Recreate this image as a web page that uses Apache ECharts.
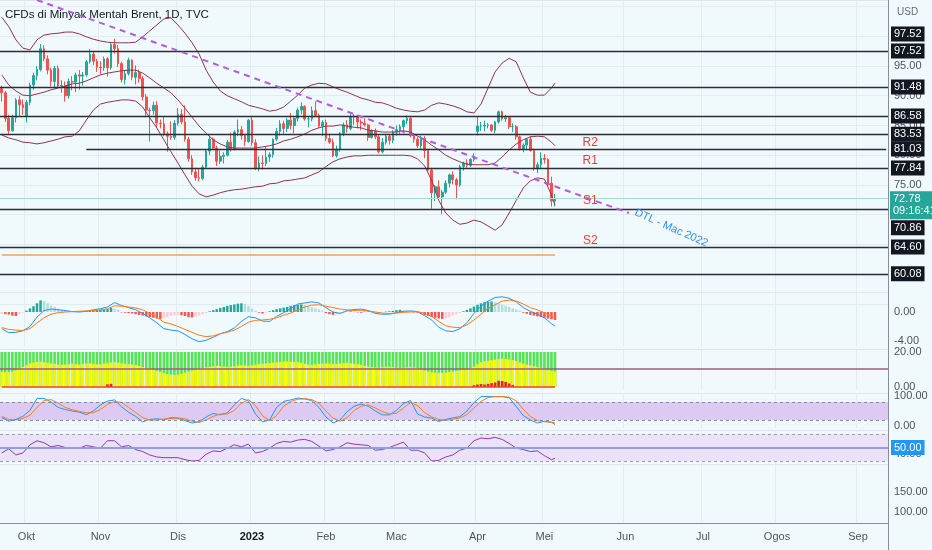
<!DOCTYPE html>
<html>
<head>
<meta charset="utf-8">
<script src="https://cdn.jsdelivr.net/npm/echarts@6/dist/echarts.min.js"></script>
<style>
html, body { margin: 0; padding: 0; background: #f0f9fb; }
#chart { width: 932px; height: 550px; }
</style>
</head>
<body>
<div id="chart"></div>
<script>
// sesi dagangan (hari kerja) dan label bulan
var holidays = ['2022-12-26', '2023-01-02', '2023-04-07'];
var monthNames = ['2023', 'Feb', 'Mac', 'Apr', 'Mei', 'Jun', 'Jul', 'Ogos', 'Sep', 'Okt', 'Nov', 'Dis'];
var barCount = 252;

// lilin harian [open, close, low, high], 22 Sep 2022 - 4 Mei 2023
var candles = [
    [91.2, 90.5, 89.0, 91.7], [90.5, 86.2, 85.6, 90.8], [86.2, 84.1, 83.6, 86.8], [84.1, 86.3, 84.0, 86.8],
    [86.3, 89.3, 85.5, 89.6], [89.3, 88.5, 86.6, 90.0], [88.5, 88.0, 86.8, 89.4], [86.5, 88.9, 85.5, 89.3],
    [88.9, 91.8, 88.4, 92.2], [91.8, 93.4, 91.0, 93.9], [93.4, 94.4, 92.6, 95.0], [94.4, 97.9, 94.1, 98.7],
    [97.9, 96.2, 95.8, 98.5], [96.2, 94.3, 93.6, 96.8], [94.3, 92.4, 91.6, 94.7], [92.4, 94.6, 91.3, 95.0],
    [94.6, 91.6, 91.4, 95.1], [91.6, 91.7, 90.5, 92.6], [91.7, 90.0, 89.0, 92.4], [90.0, 92.4, 89.5, 92.9],
    [92.4, 92.3, 90.9, 93.3], [92.3, 93.5, 90.6, 93.9], [93.5, 93.3, 91.0, 94.3], [93.3, 93.5, 91.7, 94.0],
    [93.5, 95.7, 93.2, 96.0], [95.7, 97.0, 95.4, 97.8], [97.0, 95.8, 95.2, 97.4], [95.8, 94.8, 94.0, 96.2],
    [94.8, 94.7, 93.6, 95.8], [94.7, 96.2, 94.2, 96.6], [96.2, 94.7, 93.2, 96.5], [94.7, 98.6, 94.4, 98.9],
    [98.6, 97.9, 97.1, 99.6], [97.9, 95.4, 94.8, 98.5], [95.4, 92.7, 92.2, 95.7], [92.7, 93.7, 91.9, 94.3],
    [93.7, 96.0, 93.4, 96.4], [96.0, 93.1, 92.6, 96.1], [93.1, 93.9, 91.9, 95.1], [93.9, 92.9, 92.2, 94.4],
    [92.9, 89.8, 89.2, 93.3], [89.8, 87.6, 86.4, 90.3], [87.6, 87.5, 82.3, 88.0], [87.5, 88.4, 86.8, 89.0],
    [88.4, 85.4, 84.6, 89.1], [85.4, 85.3, 84.5, 86.0], [85.3, 83.6, 83.2, 86.6], [83.6, 83.2, 80.6, 84.0],
    [83.2, 83.0, 82.6, 85.7], [83.0, 85.4, 82.6, 85.9], [85.4, 86.9, 85.0, 87.9], [86.9, 85.6, 85.2, 87.7],
    [85.6, 82.7, 82.3, 88.4], [82.7, 79.4, 78.9, 83.1], [79.4, 77.2, 76.7, 80.0], [77.2, 76.2, 75.7, 77.9],
    [76.2, 76.1, 75.6, 77.8], [76.1, 78.0, 75.8, 78.4], [78.0, 80.7, 77.8, 81.0], [80.7, 82.7, 80.0, 83.3],
    [82.7, 81.2, 80.9, 83.0], [81.2, 79.0, 78.2, 81.6], [79.0, 79.8, 78.5, 80.8], [79.8, 80.0, 78.6, 80.5],
    [80.0, 82.2, 79.8, 82.6], [82.2, 81.0, 80.6, 83.8], [81.0, 83.9, 80.8, 84.2], [83.9, 84.3, 83.2, 86.0],
    [84.3, 83.3, 82.6, 84.9], [83.3, 82.3, 81.5, 83.6], [82.3, 85.9, 82.1, 86.1], [85.9, 82.1, 81.6, 86.6],
    [82.1, 77.8, 77.5, 82.7], [77.8, 78.7, 77.3, 79.8], [78.7, 78.6, 77.6, 80.0], [78.6, 79.7, 78.2, 81.4],
    [79.7, 80.1, 78.9, 80.5], [80.1, 82.7, 79.6, 82.8], [82.7, 84.0, 82.4, 84.6], [84.0, 85.3, 83.3, 85.9],
    [85.3, 84.5, 83.6, 85.8], [84.5, 85.9, 83.9, 86.3], [85.9, 85.0, 84.3, 87.1], [85.0, 86.2, 83.7, 86.4],
    [86.2, 87.6, 85.7, 88.0], [87.6, 88.2, 86.9, 88.9], [88.2, 86.1, 85.8, 88.4], [86.1, 86.1, 84.7, 86.6],
    [86.1, 87.5, 85.7, 88.2], [87.5, 86.7, 86.4, 89.1], [86.7, 84.9, 84.6, 87.0], [84.9, 85.5, 83.2, 85.9],
    [85.5, 82.8, 82.4, 86.0], [82.8, 82.2, 81.9, 83.6], [82.2, 79.9, 79.7, 82.8], [79.9, 81.0, 79.6, 81.6],
    [81.0, 83.7, 80.6, 83.9], [83.7, 85.1, 83.2, 85.5], [85.1, 84.5, 83.8, 85.9], [84.5, 86.4, 84.2, 86.9],
    [86.4, 86.6, 85.1, 86.9], [86.6, 85.6, 84.5, 86.8], [85.6, 85.4, 84.2, 86.0], [85.4, 85.1, 84.8, 86.2],
    [85.1, 83.0, 82.4, 85.3], [83.0, 84.1, 82.8, 84.4], [84.1, 83.1, 82.7, 84.5], [83.1, 80.6, 80.3, 83.4],
    [80.6, 82.2, 80.3, 82.9], [82.2, 83.2, 81.8, 83.6], [83.2, 82.5, 81.8, 83.5], [82.5, 83.9, 82.0, 84.2],
    [83.9, 84.3, 83.3, 85.0], [84.3, 84.8, 83.6, 85.2], [84.8, 85.8, 83.7, 86.0], [85.8, 86.2, 85.2, 86.7],
    [86.2, 83.3, 83.0, 86.4], [83.3, 82.7, 82.1, 83.7], [82.7, 81.6, 81.2, 83.1], [81.6, 82.8, 80.9, 83.3],
    [82.8, 80.8, 79.5, 83.2], [80.8, 77.5, 77.2, 81.1], [77.5, 73.7, 71.0, 77.9], [73.7, 74.7, 72.3, 75.0],
    [74.7, 73.0, 72.6, 75.8], [73.0, 73.8, 70.1, 74.2], [73.8, 75.3, 73.5, 75.8], [75.3, 76.7, 74.6, 76.9],
    [76.7, 75.9, 75.1, 77.3], [75.9, 75.0, 72.6, 76.2], [75.0, 78.1, 74.7, 78.4], [78.1, 78.7, 77.4, 78.9],
    [78.7, 78.3, 77.9, 79.3], [78.3, 79.3, 78.0, 79.5], [79.3, 79.8, 78.9, 80.3], [84.0, 84.9, 83.3, 86.4],
    [84.9, 84.9, 84.1, 85.6], [84.9, 85.0, 84.0, 85.8], [85.0, 85.1, 84.5, 85.4], [85.1, 84.2, 83.9, 85.2],
    [84.2, 85.6, 83.7, 85.8], [85.6, 87.3, 85.3, 87.5], [87.3, 86.1, 85.8, 87.5], [86.1, 86.3, 85.6, 86.8],
    [86.3, 84.8, 84.4, 86.6], [84.8, 84.8, 83.9, 85.4], [84.8, 83.1, 82.6, 85.1], [83.1, 81.1, 80.8, 83.3],
    [81.1, 81.7, 80.5, 82.0], [81.7, 82.7, 80.8, 82.9], [82.7, 80.8, 80.6, 83.2], [80.8, 77.7, 77.4, 81.1],
    [77.7, 78.4, 77.0, 78.8], [78.4, 79.5, 77.8, 80.5], [79.5, 79.3, 78.6, 80.2], [79.3, 75.3, 74.8, 79.5],
    [75.3, 72.3, 71.4, 76.4], [72.3, 72.78, 71.4, 73.5]
];

// Bollinger (setiap 2 bar, titik akhir = bar terakhir)
var bbUpper = [
    103.2, 101.6, 99.4, 98.0, 97.7, 99.4, 100.2, 100.4, 100.5, 100.7,
    100.7, 100.4, 99.9, 99.5, 99.2, 99.0, 98.9, 98.9, 98.9, 99.0,
    99.9, 100.9, 101.9, 102.9, 103.1, 101.9, 100.5, 98.9, 97.0, 94.3,
    92.3, 90.8, 90.0, 89.5, 89.0, 88.4, 88.1, 87.8, 87.4, 87.6,
    88.1, 89.1, 90.1, 91.3, 91.8, 92.1, 92.0, 91.5, 91.0, 90.6,
    90.1, 89.6, 89.3, 88.9, 88.8, 88.4, 87.9, 87.6, 87.4, 87.3,
    87.6, 88.4, 88.8, 88.6, 88.3, 87.9, 87.3, 87.1, 88.6, 91.3,
    94.0, 95.5, 96.3, 95.7, 93.0, 90.6, 90.1, 90.1, 91.3, 92.1
];
var bbMiddle = [
    93.5, 91.8, 90.8, 90.1, 90.0, 90.3, 90.6, 91.0, 91.3, 91.6,
    92.0, 92.1, 92.5, 93.0, 93.5, 93.8, 94.0, 94.2, 94.3, 94.3,
    93.8, 93.0, 92.1, 91.3, 90.5, 89.3, 87.9, 86.4, 84.9, 83.7,
    82.6, 81.9, 81.4, 81.2, 81.2, 81.2, 81.2, 81.4, 81.6, 81.9,
    82.4, 82.7, 83.1, 83.6, 84.2, 84.6, 84.9, 84.9, 85.1, 84.9,
    84.7, 84.6, 84.2, 84.1, 83.9, 83.9, 83.9, 84.1, 83.9, 83.2,
    82.6, 81.7, 80.9, 80.0, 79.4, 78.9, 78.5, 78.4, 78.4, 78.4,
    78.7, 79.7, 80.9, 81.9, 82.6, 83.1, 83.2, 83.1, 82.2, 81.6
];
var bbLower = [
    83.4, 82.9, 82.6, 82.2, 82.1, 81.9, 82.1, 82.4, 82.7, 83.1,
    83.2, 84.1, 85.9, 87.6, 88.6, 88.9, 89.1, 89.3, 89.3, 89.1,
    88.1, 86.3, 84.6, 82.6, 80.6, 78.7, 76.7, 74.8, 73.5, 73.0,
    73.3, 73.7, 74.0, 74.2, 74.3, 74.5, 74.7, 74.8, 75.2, 75.3,
    75.7, 75.8, 76.0, 76.2, 76.7, 77.2, 78.1, 78.9, 79.4, 79.7,
    79.9, 79.9, 80.0, 80.0, 80.0, 80.0, 80.0, 80.0, 79.9, 79.4,
    78.2, 75.8, 72.4, 70.3, 69.1, 68.4, 68.6, 69.1, 68.8, 68.1,
    67.4, 68.3, 70.3, 72.4, 74.5, 75.7, 76.2, 76.0, 73.3, 71.6
];

// garis sokongan / rintangan
var priceLevels = [97.52, 91.48, 86.58, 83.53, 77.84, 70.86, 64.60, 60.08];
var r1Level = 81.03;
var orangeLevel = 63.24;
var lastPrice = 72.78;
var trendStart = [10, 106.09];
var trendEnd = [178, 70.29];

// MACD
var macdLine = [
    -2.3, -2.85, -2.8, -2.6, -2.0, -0.7, 0.2, 0.4, 0.3, 0.2,
    0.05, 0.0, 0.1, 0.3, 0.45, 0.7, 1.3, 0.9, 0.6, 0.3,
    -0.2, -0.8, -1.5, -2.3, -2.5, -2.6, -3.1, -3.7, -4.1, -3.9,
    -3.5, -3.0, -2.7, -2.2, -1.3, -0.65, -0.8, -1.25, -1.3, -0.6,
    -0.1, 0.5, 1.1, 1.25, 1.4, 1.25, 0.6, 0.0, -0.2, 0.2,
    0.35, 0.4, 0.2, -0.2, -0.3, -0.3, -0.1, 0.1, 0.15, 0.05,
    -0.5, -1.1, -2.1, -2.6, -2.7, -2.3, -1.5, -0.2, 0.8, 1.5,
    2.0, 2.1, 1.9, 1.4, 0.6, 0.1, -0.3, -0.8, -1.6, -1.95
];
var macdSignal = [
    -2.15, -2.4, -2.5, -2.55, -2.3, -1.5, -0.8, -0.3, -0.1, 0.0,
    0.05, 0.1, 0.15, 0.2, 0.3, 0.45, 0.85, 0.8, 0.7, 0.55,
    0.3, -0.2, -0.7, -1.4, -1.65, -2.0, -2.4, -2.8, -3.2, -3.4,
    -3.3, -3.0, -2.8, -2.5, -2.0, -1.4, -1.15, -1.1, -1.0, -0.8,
    -0.45, -0.15, 0.3, 0.7, 0.95, 1.0, 0.8, 0.6, 0.4, 0.3,
    0.2, 0.25, 0.15, 0.0, -0.15, -0.2, -0.15, -0.05, 0.0, 0.05,
    -0.2, -0.6, -1.3, -1.9, -2.1, -2.15, -1.8, -1.1, -0.3, 0.5,
    1.0, 1.5, 1.65, 1.5, 1.1, 0.6, 0.3, -0.1, -0.55, -0.8
];
var macdHist = [
    -0.25, -0.3, -0.35, -0.5, -0.55, -0.3, -0.1,
    0.2, 0.5, 0.8, 1.2, 1.6, 1.5, 1.2, 0.9, 0.7, 0.5, 0.35, 0.25, 0.15, 0.1, 0.05,
    0.05, 0.1, 0.15, 0.2, 0.25, 0.3, 0.3, 0.35, 0.4, 0.55, 0.45, 0.3,
    -0.05, -0.1, -0.15, -0.2, -0.3, -0.4, -0.5, -0.6, -0.7, -0.8, -0.9, -0.95,
    -0.85, -0.7, -0.55, -0.45, -0.4, -0.45, -0.55,
    -0.7, -0.75, -0.65, -0.5, -0.3, -0.15,
    0.1, 0.25, 0.4, 0.55, 0.7, 0.85, 0.95, 1.05, 1.15, 1.2, 1.1, 0.8, 0.5, 0.2,
    -0.1, -0.2, -0.1,
    0.1, 0.25, 0.4, 0.5, 0.6, 0.7, 0.85, 0.95, 1.0, 1.05,
    0.95, 0.8, 0.65, 0.5, 0.35, 0.2,
    -0.15, -0.3, -0.4, -0.35, -0.2,
    -0.1, 0.05, 0.1, 0.05, -0.05, -0.1, 0.05, 0.1, 0.05, -0.05, -0.1, -0.05, 0.05, 0.1, 0.15,
    0.25, 0.3, 0.2, 0.1, 0.05, -0.05, -0.1,
    -0.25, -0.4, -0.55, -0.7, -0.8, -0.9, -0.95, -0.85, -0.7, -0.5, -0.3, -0.15,
    0.1, 0.3, 0.5, 0.75, 1.0, 1.2, 1.35, 1.4, 1.45, 1.35,
    1.2, 1.0, 0.85, 0.7, 0.5, 0.35, 0.2,
    -0.1, -0.25, -0.4, -0.5, -0.6, -0.7, -0.8, -0.9, -1.0, -1.1
];

// panel hijau / kuning
var squeezeGreen = [
    20, 20, 20, 20, 20, 20, 20, 20, 20, 20, 20, 20, 20, 20, 20, 20, 20, 20, 20, 20,
    20, 20, 20, 20, 20, 20, 20, 20, 20, 20, 20, 20, 20, 20, 20, 20, 20, 20, 20, 20,
    20, 20, 20, 20, 20, 20, 20, 20, 20, 20, 20, 20, 20, 20, 20, 20, 20, 20, 20, 20,
    20, 20, 20, 20, 20, 20, 20, 20, 20, 20, 20, 20, 20, 20, 20, 20, 20, 20, 20, 20,
    20, 20, 20, 20, 20, 20, 20, 20, 20, 20, 20, 20, 20, 20, 20, 20, 20, 20, 20, 20,
    20, 20, 20, 20, 20, 20, 20, 20, 20, 20, 20, 20, 20, 20, 20, 20, 20, 20, 20, 20,
    20, 20, 20, 20, 20, 20, 20, 20, 20, 20, 20, 20, 20, 20, 20, 20, 20, 20, 20, 20,
    20, 20, 20, 20, 20, 20, 20, 20, 20, 20, 20, 20, 20, 20, 20, 20, 20, 20
];
var squeezeYellow = [
    8.6, 8.4, 8.5, 8.8, 9.5, 10.5, 11.5,
    12.5, 13.5, 14.0, 14.3,
    14.5, 14.2, 13.8, 13.5, 13.2, 12.8, 12.6, 12.8, 13.0, 13.3, 13.0, 12.8, 13.1, 13.4, 13.6, 13.2, 13.0,
    13.0, 13.3, 13.6, 14.0, 14.2, 13.9, 13.5, 13.2, 13.0, 12.8, 12.5, 12.0, 11.4,
    10.8, 10.2, 9.7, 9.2, 8.6, 8.0, 7.4, 7.0, 6.9, 7.1, 7.5, 8.2, 8.8, 9.4, 9.9,
    10.4, 10.8, 11.2, 11.5, 11.8, 12.0, 11.8, 11.6, 11.4, 11.6, 11.9, 12.2, 12.4, 12.3, 12.1,
    12.4, 12.7, 13.0, 13.3, 13.5, 13.7, 13.9, 14.1, 14.3, 14.5, 14.6, 14.4, 14.3, 14.2,
    13.8, 13.2, 12.8, 12.6, 12.9, 13.2, 13.4, 13.5, 13.3, 13.1, 13.2,
    13.4, 13.6, 13.8, 13.5, 13.2, 13.0, 12.6, 12.0, 11.6, 11.4, 11.2, 11.0, 11.3,
    11.5, 11.6, 11.3, 11.0, 10.8, 11.0, 11.2, 11.4, 11.1, 10.6,
    10.0, 9.4, 8.8, 8.4, 8.2, 8.0, 8.1, 8.3, 8.6, 8.9, 9.2, 9.5, 9.8,
    10.2, 10.8, 11.6, 13.0, 14.2, 14.8, 15.0,
    15.3, 15.6, 16.0, 16.2, 16.0, 15.7, 15.3, 14.8,
    14.0, 13.4, 12.8, 12.4, 11.8, 11.4, 11.0,
    10.4, 9.8, 9.2, 8.8
];
var squeezeRed = [
    [30, 1.5], [31, 1.8], [134, 1.0], [135, 1.4], [136, 1.7], [137, 1.4], [138, 1.8],
    [139, 2.2], [140, 2.6], [141, 3.6], [142, 3.4], [143, 2.9], [144, 2.0], [145, 1.2]
];
var squeezeLine = 10.3;

// Stochastic
var stochK = [
    28, 16, 22, 32, 52, 92, 92, 80, 62, 55,
    50, 46, 38, 50, 70, 83, 87, 64, 46, 32,
    14, 22, 24, 21, 28, 26, 18, 10, 14, 30,
    42, 37, 44, 70, 92, 84, 40, 14, 20, 62,
    82, 87, 93, 90, 85, 62, 30, 10, 20, 48,
    66, 73, 66, 50, 37, 37, 52, 75, 85, 40,
    30, 26, 15, 22, 27, 31, 50, 78, 98, 98,
    98, 98, 94, 65, 35, 20, 10, 16, 12, 5
];
var stochD = [
    32, 22, 20, 25, 36, 62, 85, 88, 76, 62,
    54, 49, 44, 44, 55, 72, 82, 78, 62, 45,
    28, 20, 20, 23, 25, 27, 24, 16, 12, 20,
    32, 40, 40, 52, 76, 88, 68, 34, 18, 35,
    66, 82, 89, 91, 88, 76, 50, 26, 16, 28,
    52, 66, 70, 60, 48, 40, 42, 60, 78, 68,
    45, 30, 22, 19, 22, 27, 38, 60, 82, 95,
    98, 98, 96, 84, 55, 32, 18, 14, 13, 10
];

// RSI
var rsi = [
    42, 48, 39, 42, 54, 60, 57, 51, 53, 50,
    50, 49, 53, 51, 49, 60, 60, 51, 53, 47,
    44, 39, 36, 35, 35, 35, 32, 30, 31, 40,
    45, 44, 49, 54, 51, 55, 42, 44, 49, 56,
    59, 58, 61, 62, 59, 52, 45, 47, 51, 57,
    55, 54, 53, 46, 47, 50, 54, 58, 46, 46,
    42, 30, 31, 36, 39, 46, 49, 60, 64, 63,
    65, 62, 56, 49, 47, 44, 45, 38, 32, 34
];

function buildDates() {
    var out = [];
    var d = new Date(Date.UTC(2022, 8, 22));
    while (out.length < barCount) {
        var wd = d.getUTCDay();
        var s = d.toISOString().slice(0, 10);
        if (wd !== 0 && wd !== 6 && holidays.indexOf(s) < 0) out.push(s);
        d.setUTCDate(d.getUTCDate() + 1);
    }
    return out;
}

var dates = buildDates();
var lastBar = candles.length - 1;
var monthStart = dates.map(function (s, i) {
    return i > 0 && s.slice(5, 7) !== dates[i - 1].slice(5, 7);
});
function sampled(arr) {
    return arr.map(function (v, k) { return [k === arr.length - 1 ? lastBar : k * 2, v]; });
}

var FONT = '"Liberation Sans Narrow", "Liberation Sans", sans-serif';
var gridColor = '#e2ecef';

var chart = echarts.init(document.getElementById('chart'));

function xAxisFor(gi, showLabels) {
    return {
        type: 'category', gridIndex: gi, data: dates, boundaryGap: true,
        axisLine: { show: false }, axisTick: { show: false },
        axisLabel: showLabels ? {
            interval: function (i) { return monthStart[i]; },
            formatter: function (v) {
                var m = +v.slice(5, 7);
                return m === 1 ? '{y|' + v.slice(0, 4) + '}' : monthNames[m - 1];
            },
            color: '#50535e', fontSize: 11, fontFamily: FONT, margin: 9,
            rich: { y: { fontWeight: 'bold', color: '#131722', fontSize: 11, fontFamily: FONT } }
        } : { show: false },
        splitLine: { show: true, interval: function (i) { return monthStart[i]; }, lineStyle: { color: gridColor } }
    };
}

function subAxis(gi, min, max, labels) {
    return {
        type: 'value', gridIndex: gi, position: 'right', min: min, max: max,
        axisLine: { show: false }, axisTick: { show: false }, splitLine: { show: false },
        axisLabel: {
            customValues: labels, color: '#50535e', fontSize: 11, fontFamily: FONT, margin: 6,
            formatter: function (v) { return v.toFixed(2); }
        }
    };
}

function histColor(p) {
    var v = macdHist[p.dataIndex];
    var prev = p.dataIndex > 0 ? macdHist[p.dataIndex - 1] : v;
    if (v >= 0) return v >= prev ? '#26a69a' : '#b2dfdb';
    return v < prev ? '#ff5252' : '#ffcdd2';
}

var levelLine = { color: '#2a2e39', width: 1.3, type: 'solid' };
var mainMarks = priceLevels.map(function (v) { return { yAxis: v, lineStyle: levelLine }; });
mainMarks.push([{ coord: [dates[24], r1Level], lineStyle: levelLine }, { coord: [dates[barCount - 1], r1Level] }]);
mainMarks.push([{ coord: [dates[0], orangeLevel], lineStyle: { color: '#f5a05a', width: 1.5, type: 'solid' } }, { coord: [dates[lastBar], orangeLevel] }]);
mainMarks.push({ yAxis: lastPrice, lineStyle: { color: '#a6dcd6', width: 1, type: 'solid' } });
mainMarks.push([{ coord: [dates[trendStart[0]], trendStart[1]], lineStyle: { color: '#b05ddb', width: 2, type: [6, 5] } }, { coord: [dates[trendEnd[0]], trendEnd[1]] }]);

var srLabel = { show: true, color: '#ef3b36', fontSize: 12, fontFamily: FONT, formatter: '{b}' };

var option = {
    animation: false,
    backgroundColor: '#f0f9fb',
    grid: [
        { left: 0, right: 44, top: 0, height: 304 },
        { left: 0, right: 44, top: 292, height: 55 },
        { left: 0, right: 44, top: 349, height: 41 },
        { left: 0, right: 44, top: 393, height: 35 },
        { left: 0, right: 44, top: 430, height: 34 },
        { left: 0, right: 44, top: 465, height: 57 }
    ],
    xAxis: [xAxisFor(0, false), xAxisFor(1, false), xAxisFor(2, false), xAxisFor(3, false), xAxisFor(4, false), xAxisFor(5, true)],
    yAxis: [
        {
            type: 'value', gridIndex: 0, position: 'right', min: 55, max: 106.09, interval: 5,
            axisLine: { show: false }, axisTick: { show: false },
            splitLine: { lineStyle: { color: gridColor } },
            axisLabel: {
                color: '#50535e', fontSize: 11, fontFamily: FONT, margin: 6,
                formatter: function (v) { return (v > 57 && v < 96 && v % 5 === 0) ? v.toFixed(2) : ''; }
            }
        },
        subAxis(1, -4.83, 2.76, [0, -4]),
        subAxis(2, -1.71, 21.7, [20, 0]),
        subAxis(3, -6.67, 110, [100, 0]),
        subAxis(4, 25.6, 75.9, [40]),
        subAxis(5, 75, 217.5, [150, 100])
    ],
    series: [
        {
            type: 'candlestick', xAxisIndex: 0, yAxisIndex: 0, data: candles, barWidth: '62%',
            itemStyle: { color: '#26a69a', color0: '#ef5350', borderColor: '#26a69a', borderColor0: '#ef5350', borderWidth: 1 },
            markLine: { silent: true, symbol: ['none', 'none'], label: { show: false }, data: mainMarks },
            markPoint: {
                silent: true, symbol: 'circle', symbolSize: 0,
                data: [
                    { name: 'R2', coord: [dates[167], 82.06], label: srLabel },
                    { name: 'R1', coord: [dates[167], 79.03], label: srLabel },
                    { name: 'S1', coord: [dates[167], 72.31], label: srLabel },
                    { name: 'S2', coord: [dates[167], 65.59], label: srLabel },
                    { name: 'DTL - Mac 2022', coord: [dates[190], 67.77],
                      label: { show: true, formatter: '{b}', rotate: -24, color: '#2f8fe8', fontSize: 11, fontFamily: FONT } }
                ]
            }
        },
        { type: 'line', xAxisIndex: 0, yAxisIndex: 0, data: sampled(bbUpper), showSymbol: false, lineStyle: { color: '#8d3550', width: 1 } },
        { type: 'line', xAxisIndex: 0, yAxisIndex: 0, data: sampled(bbMiddle), showSymbol: false, lineStyle: { color: '#8d3550', width: 1 } },
        { type: 'line', xAxisIndex: 0, yAxisIndex: 0, data: sampled(bbLower), showSymbol: false, lineStyle: { color: '#8d3550', width: 1 } },

        { type: 'bar', xAxisIndex: 1, yAxisIndex: 1, data: macdHist, barWidth: '70%', itemStyle: { color: histColor } },
        { type: 'line', xAxisIndex: 1, yAxisIndex: 1, data: sampled(macdLine), showSymbol: false, lineStyle: { color: '#2196f3', width: 1 } },
        { type: 'line', xAxisIndex: 1, yAxisIndex: 1, data: sampled(macdSignal), showSymbol: false, lineStyle: { color: '#ff7a1a', width: 1 } },

        {
            type: 'bar', xAxisIndex: 2, yAxisIndex: 2, data: squeezeGreen, barWidth: '74%', barGap: '-100%',
            itemStyle: { color: '#55e455' }
        },
        {
            type: 'bar', xAxisIndex: 2, yAxisIndex: 2, data: squeezeYellow, barWidth: '74%', barGap: '-100%',
            itemStyle: { color: '#f6f600' },
            markLine: {
                silent: true, symbol: ['none', 'none'], label: { show: false },
                data: [
                    { yAxis: squeezeLine, lineStyle: { color: '#a35a80', width: 1.5, type: 'solid' } },
                    [{ coord: [dates[0], 0.2], lineStyle: { color: '#e8452c', width: 1.5, type: 'solid' } }, { coord: [dates[lastBar], 0.2] }]
                ]
            }
        },
        {
            type: 'bar', xAxisIndex: 2, yAxisIndex: 2, data: squeezeRed, barWidth: '74%', barGap: '-100%',
            itemStyle: { color: '#f21d1d' }
        },

        {
            type: 'line', xAxisIndex: 3, yAxisIndex: 3, data: sampled(stochK), showSymbol: false, lineStyle: { color: '#2196f3', width: 1 },
            markArea: { silent: true, itemStyle: { color: '#dccaf3' }, data: [[{ yAxis: 20 }, { yAxis: 80 }]] },
            markLine: {
                silent: true, symbol: ['none', 'none'], label: { show: false },
                lineStyle: { color: '#8a8a98', type: [3, 3], width: 1 },
                data: [{ yAxis: 20 }, { yAxis: 80 }]
            }
        },
        { type: 'line', xAxisIndex: 3, yAxisIndex: 3, data: sampled(stochD), showSymbol: false, lineStyle: { color: '#ff7a1a', width: 1 } },

        {
            type: 'line', xAxisIndex: 4, yAxisIndex: 4, data: sampled(rsi), showSymbol: false, lineStyle: { color: '#8e3aa8', width: 1 },
            markArea: { silent: true, itemStyle: { color: '#ebe2f9' }, data: [[{ yAxis: 30 }, { yAxis: 70 }]] },
            markLine: {
                silent: true, symbol: ['none', 'none'], label: { show: false },
                data: [
                    { yAxis: 30, lineStyle: { color: '#9a9aa8', type: [3, 3], width: 1 } },
                    { yAxis: 70, lineStyle: { color: '#9a9aa8', type: [3, 3], width: 1 } },
                    { yAxis: 50, lineStyle: { color: '#8aa2e0', type: 'solid', width: 2 } }
                ]
            }
        },
        { type: 'line', xAxisIndex: 5, yAxisIndex: 5, data: [] }
    ]
};

chart.setOption(option);

// label harga di skala kanan dan hiasan panel
var tagFont = '11px ' + FONT;
var tagNudge = { 70.86: 18 };
var graphics = [];
[0, 292, 349, 393, 430, 464].forEach(function (y) {
    graphics.push({ type: 'line', silent: true, shape: { x1: 0, y1: y + 0.5, x2: 888, y2: y + 0.5 }, style: { stroke: '#dfe5e8', lineWidth: 1 } });
});
graphics.push({ type: 'line', silent: true, shape: { x1: 0, y1: 523.5, x2: 888, y2: 523.5 }, style: { stroke: '#8a8d96', lineWidth: 1 } });
graphics.push({ type: 'line', silent: true, shape: { x1: 888.5, y1: 0, x2: 888.5, y2: 550 }, style: { stroke: '#8a8d96', lineWidth: 1 } });
graphics.push({ type: 'text', silent: true, x: 5, y: 15, style: { text: 'CFDs di Minyak Mentah Brent, 1D, TVC', fill: '#131722', font: '11.5px ' + FONT, verticalAlign: 'middle' } });
graphics.push({ type: 'text', silent: true, x: 897, y: 12, style: { text: 'USD', fill: '#6a6d78', font: '10px ' + FONT, verticalAlign: 'middle' } });

function tag(value, y, bg) {
    return {
        type: 'text', silent: true, x: 891, y: y, z: 100,
        style: { text: value, fill: '#ffffff', backgroundColor: bg, padding: [2, 3, 2, 3], font: tagFont, verticalAlign: 'middle' }
    };
}
var allLevels = priceLevels.concat([r1Level]);
allLevels.forEach(function (v) {
    var y = chart.convertToPixel({ yAxisIndex: 0 }, v) + (tagNudge[v] || 0);
    graphics.push(tag(v.toFixed(2), y, '#131722'));
});
graphics.push(tag(priceLevels[0].toFixed(2), chart.convertToPixel({ yAxisIndex: 0 }, priceLevels[0]) - 17, '#131722'));
var lpY = chart.convertToPixel({ yAxisIndex: 0 }, lastPrice);
graphics.push({
    type: 'text', silent: true, x: 890, y: lpY - 7, z: 101,
    style: { text: lastPrice.toFixed(2) + '\n09:16:41', fill: '#ffffff', backgroundColor: '#26a69a', padding: [2, 3, 2, 3], font: tagFont, lineHeight: 12, verticalAlign: 'top' }
});
graphics.push(tag('50.00', chart.convertToPixel({ yAxisIndex: 4 }, 50), '#2196f3'));

chart.setOption({ graphic: graphics });
</script>
</body>
</html>
